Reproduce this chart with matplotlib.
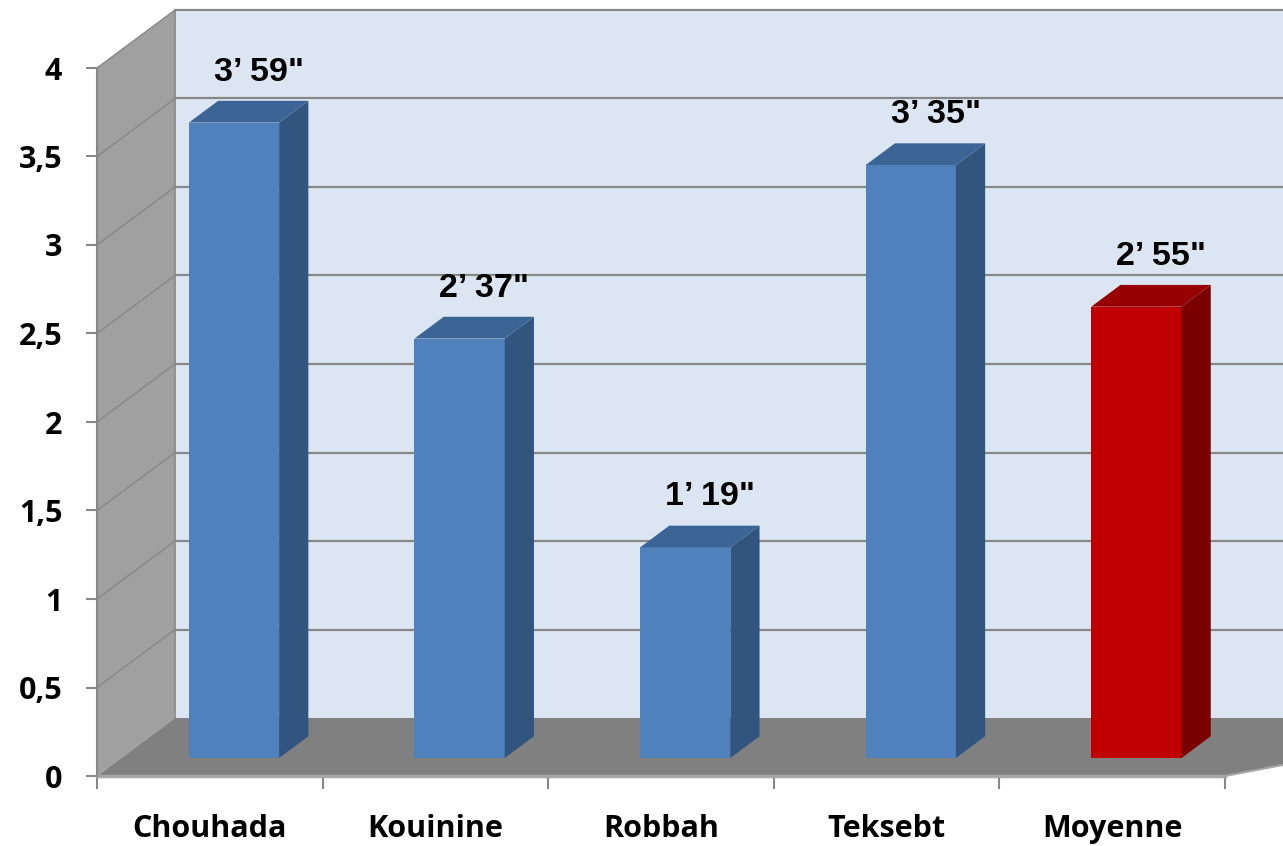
import matplotlib.pyplot as plt
from matplotlib.patches import Polygon

# data
villes = ['Chouhada', 'Kouinine', 'Robbah', 'Teksebt', 'Moyenne']
durees = [3.59, 2.37, 1.19, 3.35, 2.55]
etiquettes = ['3\u2019 59"', '2\u2019 37"', '1\u2019 19"', '3\u2019 35"', '2\u2019 55"']
yticks = [0, 0.5, 1, 1.5, 2, 2.5, 3, 3.5, 4]
ytick_labels = ['0', '0,5', '1', '1,5', '2', '2,5', '3', '3,5', '4']

face = ['#4f81bd'] * 4 + ['#c00000']
cote = ['#325580'] * 4 + ['#7a0000']
dessus = ['#3c6494'] * 4 + ['#960000']

fig = plt.figure(figsize=(12.83, 8.46), dpi=100)
ax = fig.add_axes([97 / 1283, 70 / 846, 1128 / 1283, 708 / 846])
ax.set_xlim(-0.5, 4.5)
ax.set_ylim(0, 4)

# fake depth (3d look), in data units
DX = 78 / 225.6
DY = 58 / 177.0


def pt(x, y, f):
    return (x + f * DX, y + f * DY)


gris = '#878787'

# back wall
ax.add_patch(Polygon([pt(-0.5, 0, 1), pt(5.5, 0, 1), pt(5.5, 4, 1), pt(-0.5, 4, 1)],
                     closed=True, fc='#dce6f2', ec='none', zorder=0, clip_on=False))
# side wall
ax.add_patch(Polygon([pt(-0.5, 0, 0), pt(-0.5, 4, 0), pt(-0.5, 4, 1), pt(-0.5, 0, 1)],
                     closed=True, fc='#a0a0a0', ec='none', zorder=0.5, clip_on=False))
# floor
ax.add_patch(Polygon([pt(-0.5, 0, 0), pt(4.5, 0, 0), pt(5.5, 0, 1), pt(-0.5, 0, 1)],
                     closed=True, fc='#808080', ec='none', zorder=1, clip_on=False))

# gridlines
for v in yticks[1:]:
    a = pt(-0.5, v, 1)
    ax.plot([a[0], 5.5], [a[1], a[1]], color=gris, lw=1.6, zorder=0.8, clip_on=False)
    b = pt(-0.5, v, 0)
    ax.plot([b[0], a[0]], [b[1], a[1]], color=gris, lw=1.0, zorder=0.8, clip_on=False)
a = pt(-0.5, 0, 1)
b = pt(-0.5, 4, 1)
ax.plot([a[0], b[0]], [a[1], b[1]], color=gris, lw=1.2, zorder=0.9, clip_on=False)
a = pt(4.5, 0, 0)
b = pt(5.5, 0, 1)
ax.plot([a[0], b[0]], [a[1], b[1]], color='#a6a6a6', lw=1.5, zorder=1.1, clip_on=False)

# bars
f1 = 0.31
f2 = 0.685
w = 0.4
xs = [i + f1 * DX for i in range(len(villes))]
ax.bar(xs, durees, width=w, bottom=f1 * DY, color=face, zorder=3)
for i, v in enumerate(durees):
    x0 = i - w / 2
    x1 = i + w / 2
    side = [pt(x1, 0, f1), pt(x1, 0, f2), pt(x1, v, f2), pt(x1, v, f1)]
    top = [pt(x0, v, f1), pt(x1, v, f1), pt(x1, v, f2), pt(x0, v, f2)]
    ax.add_patch(Polygon(side, closed=True, fc=cote[i], ec='none', zorder=3))
    ax.add_patch(Polygon(top, closed=True, fc=dessus[i], ec='none', zorder=3))
    ax.text(i + f1 * DX + 0.11, v + f1 * DY + 0.285, etiquettes[i],
            ha='center', va='center', fontsize=24.5, fontweight='bold',
            family='Liberation Sans', zorder=4)

# axes styling
for s in ['top', 'right']:
    ax.spines[s].set_visible(False)
ax.spines['left'].set_color(gris)
ax.spines['left'].set_linewidth(1.5)
ax.spines['bottom'].set_color('#a6a6a6')
ax.spines['bottom'].set_linewidth(2.5)
ax.spines['bottom'].set_zorder(2)

ax.set_yticks(yticks)
ax.set_yticklabels(ytick_labels, fontsize=22, fontweight='bold', family='Open Sans')
ax.tick_params(axis='y', length=8, width=1.5, color=gris, pad=17)

ax.set_xticks(range(len(villes)))
ax.set_xticklabels(villes, fontsize=22, fontweight='bold', family='Open Sans')
ax.set_xticks([i - 0.5 for i in range(len(villes) + 1)], minor=True)
ax.tick_params(axis='x', which='major', length=0, pad=27)
ax.tick_params(axis='x', which='minor', length=9, width=1.5, color=gris)

fig.savefig('out.png', dpi=100)
